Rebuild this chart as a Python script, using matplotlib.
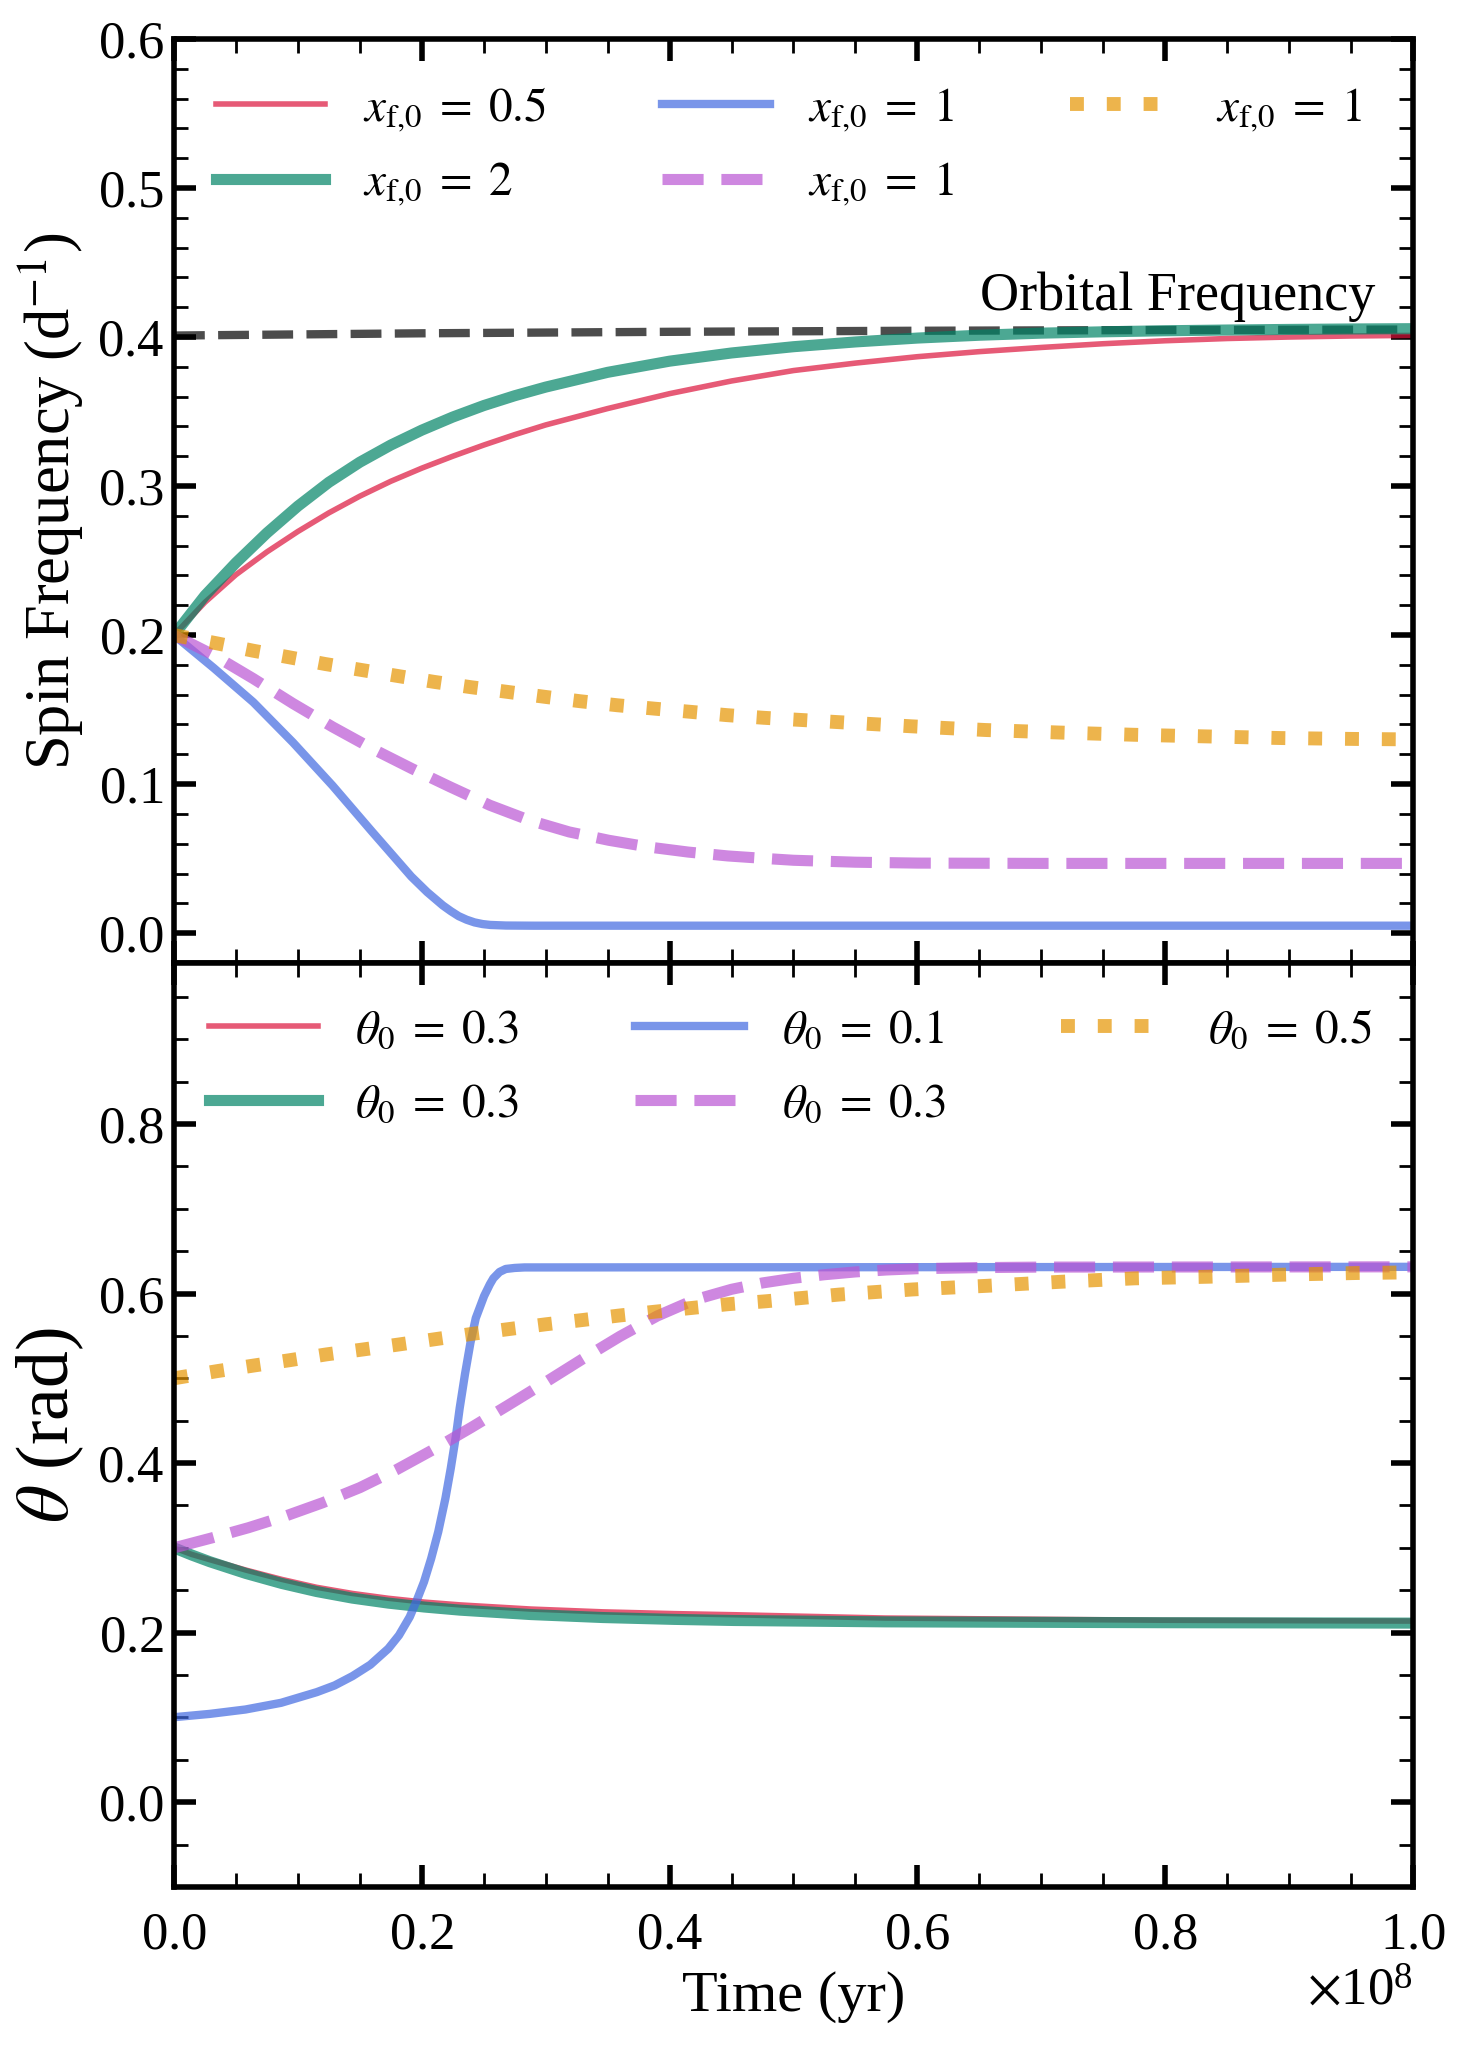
import numpy as np
import matplotlib as mpl; mpl.use('Agg')
import matplotlib.pyplot as plt
from matplotlib.ticker import MultipleLocator, AutoMinorLocator

plt.rcParams.update({'font.family':'serif','font.serif':['Liberation Serif','DejaVu Serif'],
                     'mathtext.fontset':'stix','axes.formatter.use_mathtext':True,
                     'axes.linewidth':2,
                     'xtick.direction':'in','ytick.direction':'in','xtick.top':True,'ytick.right':True,
                     'xtick.major.size':8,'xtick.major.width':2,'xtick.minor.size':5,'xtick.minor.width':1,
                     'ytick.major.size':8,'ytick.major.width':2,'ytick.minor.size':5,'ytick.minor.width':1,
                     'xtick.minor.visible':True,'ytick.minor.visible':True})

T_UNIT = 1e8  # time values below are in units of 1e8 yr

# ---- top panel: spin frequency (d^-1) ----
t_orb = [0, 0.2, 0.4, 0.6, 0.8, 1.0]
f_orb = [0.401, 0.4025, 0.4035, 0.4042, 0.4047, 0.405]

t_a = [0, 0.025, 0.05, 0.075, 0.1, 0.125, 0.15, 0.175, 0.2, 0.225, 0.25, 0.275, 0.3,
       0.35, 0.4, 0.45, 0.5, 0.55, 0.6, 0.65, 0.7, 0.75, 0.8, 0.85, 0.9, 0.95, 1.0]
f_pink = [0.200, 0.222, 0.2405, 0.2558, 0.2695, 0.282, 0.2932, 0.3032, 0.312, 0.320, 0.3275, 0.3345, 0.341,
          0.352, 0.362, 0.3705, 0.3775, 0.3825, 0.3868, 0.3902, 0.393, 0.3955, 0.3975, 0.399, 0.400, 0.4007, 0.4011]
f_green = [0.200, 0.2265, 0.2485, 0.2685, 0.2865, 0.3025, 0.316, 0.3275, 0.3375, 0.3463, 0.354, 0.3606, 0.3664,
           0.3763, 0.3838, 0.3893, 0.3935, 0.3967, 0.3993, 0.4012, 0.4026, 0.4035, 0.4042, 0.4047, 0.4051, 0.4054, 0.4056]

t_blue = [0, 0.032, 0.064, 0.096, 0.128, 0.160, 0.1915, 0.2043, 0.217, 0.2234, 0.2298, 0.2362, 0.2426,
          0.249, 0.2553, 0.268, 0.29, 1.0]
f_blue = [0.200, 0.178, 0.155, 0.128, 0.099, 0.068, 0.038, 0.0276, 0.0186, 0.0148, 0.0114, 0.009, 0.0072,
          0.0061, 0.0055, 0.0051, 0.005, 0.005]

t_purp = [0, 0.032, 0.064, 0.096, 0.128, 0.160, 0.192, 0.223, 0.255, 0.287, 0.319, 0.351, 0.383, 0.415,
          0.447, 0.479, 0.50, 0.55, 0.60, 0.70, 1.0]
f_purp = [0.200, 0.1866, 0.1708, 0.1541, 0.1384, 0.1238, 0.1104, 0.0981, 0.0858, 0.0757, 0.0679, 0.0623,
          0.0578, 0.0544, 0.0518, 0.050, 0.0489, 0.0476, 0.047, 0.0468, 0.0468]

t_oran = [0, 0.035, 0.064, 0.093, 0.122, 0.152, 0.181, 0.21, 0.24, 0.269, 0.299, 0.328, 0.358, 0.387, 0.417,
          0.446, 0.476, 0.536, 0.595, 0.655, 0.715, 0.775, 0.834, 0.894, 0.954, 1.0]
f_oran = [0.200, 0.1944, 0.1895, 0.1851, 0.1806, 0.1765, 0.1725, 0.1686, 0.165, 0.1619, 0.1586, 0.1556, 0.1529,
          0.1507, 0.1485, 0.1463, 0.1445, 0.1416, 0.1388, 0.1363, 0.1346, 0.1331, 0.132, 0.1309, 0.1303, 0.130]

# ---- bottom panel: obliquity theta (rad) ----
tb_a = [0, 0.0144, 0.029, 0.058, 0.087, 0.115, 0.144, 0.173, 0.202, 0.231, 0.288, 0.346, 0.404, 0.452, 0.574, 0.797, 1.0]
th_pink = [0.300, 0.2922, 0.286, 0.2738, 0.2628, 0.2535, 0.2462, 0.2405, 0.236, 0.2327, 0.2278, 0.2245, 0.2224,
           0.2211, 0.2172, 0.2146, 0.2136]
th_green = [0.300, 0.2915, 0.2836, 0.2698, 0.258, 0.2485, 0.2407, 0.2348, 0.2302, 0.2265, 0.2213, 0.2178, 0.2156,
            0.2143, 0.2127, 0.2117, 0.2112]

tb_blue = [0, 0.0288, 0.0577, 0.0865, 0.1153, 0.1297, 0.1441, 0.1585, 0.173, 0.1816, 0.1903, 0.196, 0.2018,
           0.2076, 0.2133, 0.2191, 0.2234, 0.2277, 0.2306, 0.2349, 0.2393, 0.2436, 0.2503, 0.255, 0.2578,
           0.2628, 0.2678, 0.275, 0.2828, 1.0]
th_blue = [0.1002, 0.1041, 0.1093, 0.1172, 0.1298, 0.1377, 0.1487, 0.1621, 0.1811, 0.1968, 0.2185, 0.2381, 0.2598,
           0.2874, 0.3189, 0.3584, 0.3937, 0.4331, 0.4647, 0.505, 0.542, 0.571, 0.597, 0.611, 0.618,
           0.6255, 0.629, 0.6302, 0.6308, 0.6315]

tb_purp = [0, 0.03, 0.06, 0.09, 0.12, 0.15, 0.18, 0.21, 0.24, 0.27, 0.30, 0.33, 0.36, 0.39, 0.42, 0.45,
           0.475, 0.5, 0.525, 0.55, 0.575, 0.6, 0.65, 0.7, 1.0]
th_purp = [0.300, 0.3115, 0.3237, 0.3375, 0.3532, 0.371, 0.3925, 0.4165, 0.442, 0.4685, 0.4955, 0.523, 0.5495,
           0.5735, 0.5925, 0.605, 0.6125, 0.618, 0.6222, 0.6255, 0.6278, 0.6293, 0.6306, 0.6312, 0.6315]

tb_oran = [0, 0.035, 0.065, 0.094, 0.123, 0.153, 0.182, 0.212, 0.242, 0.271, 0.30, 0.33, 0.359, 0.389, 0.418,
           0.447, 0.478, 0.537, 0.596, 0.656, 0.716, 0.775, 0.834, 0.894, 0.954, 1.0]
th_oran = [0.500, 0.5085, 0.5152, 0.5215, 0.5282, 0.5341, 0.540, 0.5464, 0.5527, 0.5582, 0.5637, 0.5688, 0.574,
           0.5787, 0.583, 0.5874, 0.5909, 0.5988, 0.6048, 0.6091, 0.6139, 0.6179, 0.6198, 0.6222, 0.6242, 0.625]

lab_top = [r'$x_{\mathrm{f{,}0}}\;=\;0.5$', r'$x_{\mathrm{f{,}0}}\;=\;2$', r'$x_{\mathrm{f{,}0}}\;=\;1$',
           r'$x_{\mathrm{f{,}0}}\;=\;1$', r'$x_{\mathrm{f{,}0}}\;=\;1$']
lab_bot = [r'$\theta_0\;=\;0.3$', r'$\theta_0\;=\;0.3$', r'$\theta_0\;=\;0.1$', r'$\theta_0\;=\;0.3$', r'$\theta_0\;=\;0.5$']

# style per run: pink, green, blue, purple, orange
cols = ['crimson', '#008366', 'royalblue', 'mediumorchid', '#E69500']
lws = [2, 4, 3, 4, 5]
lss = ['-', '-', '-', '--', ':']
A = 0.7

sc = lambda t: np.asarray(t)*T_UNIT

fig, (ax1, ax2) = plt.subplots(2, 1, figsize=(7.34, 10.255), sharex=True)
fig.subplots_adjust(left=0.1185, right=0.9625, top=0.981, bottom=0.08, hspace=0)

ax1.plot(sc(t_orb), f_orb, color='k', ls='--', lw=3, alpha=A)
top_series = [(t_a, f_pink), (t_a, f_green), (t_blue, f_blue), (t_purp, f_purp), (t_oran, f_oran)]
for (t, f), c, lw, ls, lab in zip(top_series, cols, lws, lss, lab_top):
    ax1.plot(sc(t), f, color=c, lw=lw, ls=ls, alpha=A, label=lab)
ax1.text(0.97e8, 0.41, 'Orbital Frequency', ha='right', va='bottom', fontsize=19.5)
ax1.set_ylim(-0.02, 0.6)
ax1.yaxis.set_major_locator(MultipleLocator(0.1)); ax1.yaxis.set_minor_locator(AutoMinorLocator(5))
ax1.set_ylabel(r'Spin Frequency (d$^{-1}$)', fontsize=22.5)
ax1.legend(loc='upper left', bbox_to_anchor=(0.0, 0.996), ncol=3, frameon=False, fontsize=17,
           handlelength=2.3, columnspacing=2.45, labelspacing=0.58)

bot_series = [(tb_a, th_pink), (tb_a, th_green), (tb_blue, th_blue), (tb_purp, th_purp), (tb_oran, th_oran)]
for (t, f), c, lw, ls, lab in zip(bot_series, cols, lws, lss, lab_bot):
    ax2.plot(sc(t), f, color=c, lw=lw, ls=ls, alpha=A, label=lab)
ax2.set_ylim(-0.1, 0.99)
ax2.yaxis.set_major_locator(MultipleLocator(0.2)); ax2.yaxis.set_minor_locator(AutoMinorLocator(4))
ax2.set_ylabel(r'$\theta$ (rad)', fontsize=26.5)
ax2.legend(loc='upper left', bbox_to_anchor=(-0.006, 0.996), ncol=3, frameon=False, fontsize=17,
           handlelength=2.3, columnspacing=2.45, labelspacing=0.65)

ax2.set_xlim(0, 1e8)
ax2.xaxis.set_major_locator(MultipleLocator(0.2e8)); ax2.xaxis.set_minor_locator(AutoMinorLocator(4))
ax2.set_xlabel('Time (yr)', fontsize=21)
for ax in (ax1, ax2):
    ax.tick_params(axis='both', which='major', labelsize=19)
    ax.tick_params(axis='x', pad=9)
ax2.xaxis.get_offset_text().set_fontsize(19)

fig.savefig('out.png', dpi=200)
